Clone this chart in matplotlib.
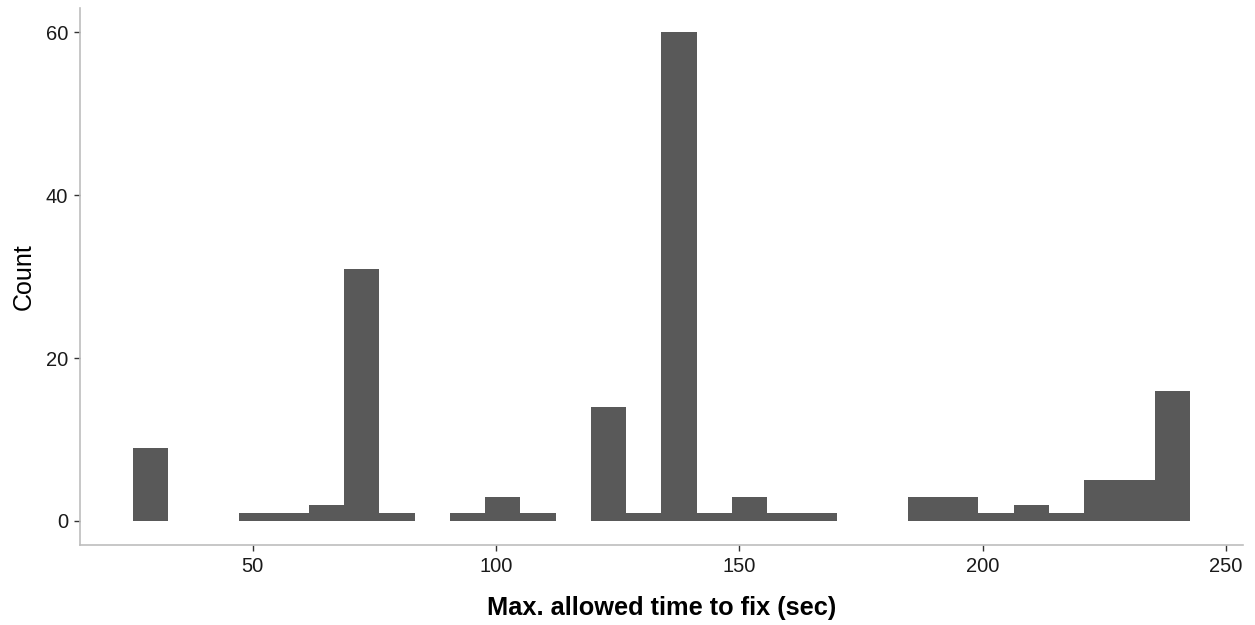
import numpy as np
import matplotlib
matplotlib.use("Agg")
import matplotlib.pyplot as plt

plt.rcParams['font.family'] = ['Liberation Sans', 'DejaVu Sans']

# histogram of max. allowed fix time, 30 bins
bin_start = 25.4
bin_width = 7.24
counts = [9, 0, 0, 1, 1, 2, 31, 1, 0, 1,
          3, 1, 0, 14, 1, 60, 1, 3, 1, 1,
          0, 0, 3, 3, 1, 2, 1, 5, 5, 16]
x_ticks = [50, 100, 150, 200, 250]
y_ticks = [0, 20, 40, 60]

edges = bin_start + bin_width * np.arange(len(counts) + 1)

fig = plt.figure(figsize=(12.55, 6.25), dpi=100)
ax = fig.add_axes([0.0637, 0.1274, 0.9265, 0.8598])

ax.bar(edges[:-1], counts, width=bin_width, align='edge',
       color='#595959', edgecolor='none', linewidth=0)

span = edges[-1] - edges[0]
ax.set_xlim(edges[0] - 0.05 * span, edges[-1] + 0.05 * span)
ax.set_ylim(-3, 63)
ax.set_xticks(x_ticks)
ax.set_yticks(y_ticks)

for side in ('top', 'right'):
    ax.spines[side].set_visible(False)
for side in ('left', 'bottom'):
    ax.spines[side].set_color('#bdbdbd')
    ax.spines[side].set_linewidth(1.2)

ax.tick_params(axis='both', colors='#333333', length=4.5, width=1,
               labelsize=14.5, labelcolor='#1a1a1a', pad=4)

ax.set_xlabel('Max. allowed time to fix (sec)', fontsize=18.3,
              fontweight='bold', labelpad=14)
ax.set_ylabel('Count', fontsize=18, labelpad=7)

fig.savefig('out.png', dpi=100, facecolor='white')
